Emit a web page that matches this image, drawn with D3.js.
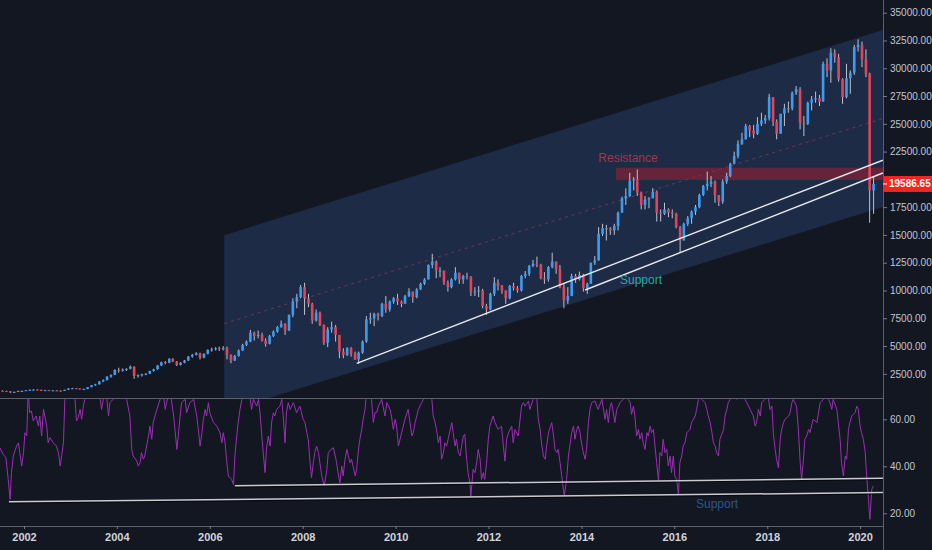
<!DOCTYPE html>
<html>
<head>
<meta charset="utf-8">
<script src="https://cdn.jsdelivr.net/npm/d3@7"></script>
<style>
  html, body { margin: 0; padding: 0; background: #131722; }
  svg { display: block; }
  text { font-family: "Liberation Sans", Arial, sans-serif; }
</style>
</head>
<body>
<svg id="chart" width="932" height="550"></svg>
<script>
// ---- data (monthly candles from Jul 2001) ----
const startMonth = new Date(2001, 6, 1);
const firstOpen = 980;
const closes = [
  950, 930, 820, 870, 960, 960,
  1020, 1060, 1080, 1060, 1000, 1030, 990, 1010, 980, 960, 1060, 1180,
  1200, 1190, 1120, 1130, 1300, 1470, 1550, 1800, 1930, 2250, 2400, 2850,
  2800, 2880, 2950, 3140, 2300, 2380, 2450, 2500, 2750, 2900, 3250, 3550,
  3500, 3850, 3600, 3300, 3500, 3700, 4050, 4200, 4350, 3950, 4300, 4650,
  4700, 4800, 4750, 4800, 4200, 3700, 4100, 4600, 5100, 5400, 6200, 5900,
  6000, 5500, 5200, 5900, 6300, 6700, 7000, 6400, 7800, 9000, 9400, 10300,
  9300, 8800, 7300, 8000, 6900, 5300, 6500, 6700, 6000, 4500, 4200, 4800,
  4300, 3800, 4400, 5400, 7400, 7500, 7900, 7700, 8800, 8300, 9000, 9300,
  9000, 8800, 9500, 9900, 9400, 10100, 10600, 11000, 12300, 12600, 11800, 11800,
  10700, 10300, 11000, 11600, 11000, 11300, 11200, 9900, 9900, 10000, 8600, 8300,
  9700, 10700, 10400, 10000, 9300, 10400, 10200, 10000, 11300, 11500, 12200, 12400,
  12300, 11100, 11000, 12100, 12600, 11900, 10300, 9100, 9500, 11300, 11000, 11400,
  10200, 10600, 12500, 12700, 15100, 15600, 15600, 15400, 15800, 17000, 18300, 18500,
  19900, 20000, 18800, 17700, 18200, 18300, 18900, 17000, 16900, 17300, 17000, 16900,
  15700, 14500, 16000, 16500, 17100, 17500, 18600, 19400, 19600, 19800, 18600, 18000,
  19800, 20300, 21400, 22100, 23200, 23600, 24800, 24400, 24100, 25000, 25300, 25500,
  27400, 25200, 24100, 25900, 26400, 26400, 27800, 28100, 25100, 25000, 26900, 27200,
  27300, 27000, 30400, 29800, 31400, 31000, 29000, 27400, 29100, 29600, 31900, 32100,
  30800, 29500, 19000, 19586.65
];
const highs = [
  1010, 980, 940, 900, 980, 1000,
  1040, 1090, 1110, 1100, 1070, 1050, 1050, 1030, 1030, 1000, 1070, 1200,
  1240, 1230, 1200, 1170, 1310, 1490, 1600, 1840, 2000, 2280, 2450, 2900,
  3050, 2980, 3000, 3250, 3180, 2450, 2520, 2560, 2780, 2960, 3280, 3600,
  3650, 3900, 3900, 3650, 3550, 3750, 4100, 4300, 4450, 4400, 4350, 4700,
  4850, 4900, 4950, 5000, 4950, 4250, 4200, 4700, 5200, 5500, 6450, 6300,
  6400, 6200, 5700, 6000, 6400, 6800, 7300, 7050, 7850, 9300, 9700, 10500,
  10700, 9700, 8900, 8300, 8100, 6950, 6700, 7200, 6900, 6000, 4800, 4900,
  4900, 4500, 4500, 5500, 7700, 8000, 8000, 8000, 8900, 9500, 9100, 9400,
  9700, 9100, 9600, 10200, 9900, 10200, 10700, 11100, 12350, 13300, 12700, 12100,
  11700, 10900, 11100, 12100, 11600, 11400, 11600, 11300, 10300, 10400, 10150, 8800,
  9800, 11200, 11000, 10500, 10000, 10500, 10700, 10400, 11400, 11750, 12300, 12750,
  13050, 12400, 11650, 12200, 13400, 12600, 12300, 10600, 10300, 11500, 11500, 11700,
  11500, 10700, 12500, 13100, 15700, 16000, 15900, 15700, 16000, 17100, 18450, 19200,
  20600, 20200, 20900, 18900, 18500, 18400, 19200, 19000, 17300, 17900, 17400, 17300,
  17000, 15800, 16100, 16700, 17200, 17700, 18700, 19500, 20700, 20300, 19900, 18400,
  20000, 20600, 21500, 22500, 23500, 24200, 25000, 24900, 24900, 25600, 26000, 25800,
  27700, 27400, 25400, 25900, 26800, 27000, 27900, 28400, 28300, 25700, 27000, 27500,
  27900, 27600, 30600, 30900, 31800, 31700, 31300, 29100, 30400, 29800, 32100, 32600,
  32400, 31700, 29600, 20300
];
const lows = [
  930, 900, 780, 800, 860, 920,
  950, 1000, 1030, 1030, 960, 980, 960, 970, 960, 920, 950, 1050,
  1150, 1140, 1090, 1080, 1120, 1290, 1430, 1540, 1760, 1910, 2150, 2380,
  2600, 2700, 2750, 2900, 2050, 2150, 2250, 2380, 2480, 2700, 2880, 3200,
  3350, 3450, 3550, 3200, 3250, 3450, 3650, 3950, 4150, 3800, 3900, 4250,
  4500, 4600, 4550, 4600, 3800, 3450, 3650, 4050, 4550, 5000, 5350, 5500,
  5700, 5400, 4950, 5150, 5800, 6200, 6650, 6000, 6350, 7600, 8400, 9300,
  7800, 8500, 7000, 7200, 6800, 5100, 4900, 6200, 5400, 3900, 3900, 4100,
  4050, 3750, 3400, 4300, 5300, 7000, 6800, 7300, 7600, 8000, 8100, 8800,
  8700, 8500, 8850, 9400, 8900, 9300, 10050, 10500, 11000, 12000, 11100, 11200,
  10500, 9900, 10200, 10900, 10600, 10600, 11000, 9500, 9500, 9400, 8400, 7800,
  8200, 9500, 10000, 9700, 8800, 9200, 10000, 9800, 9900, 11100, 11300, 12100,
  12100, 11000, 10600, 10800, 12000, 11500, 10200, 8400, 8800, 9500, 10700, 10900,
  9900, 9700, 10600, 12300, 12700, 14900, 14500, 15000, 15000, 15400, 17000, 17700,
  18400, 19000, 18500, 17300, 17300, 17400, 18300, 16200, 16200, 16800, 16600, 16500,
  15600, 13400, 14500, 15800, 16000, 16800, 17400, 18500, 19000, 19300, 17900, 17600,
  17800, 19600, 20200, 21400, 21900, 23100, 23600, 23800, 23700, 24000, 24800, 25000,
  25300, 24800, 23600, 24200, 24800, 26000, 26200, 27600, 24500, 23900, 24900, 26200,
  26900, 26600, 27000, 29200, 28700, 30500, 28800, 26800, 27300, 27700, 29400, 31500,
  30100, 29200, 16100, 16900
];

// RSI readings: [decimal year, value]
const rsi = [
  [2001.48,47.9],[2001.55,45.1],[2001.61,43.7],[2001.66,34.4],[2001.70,25.9],[2001.73,37.3],[2001.77,44.4],
  [2001.84,48.6],[2001.88,50.0],[2001.91,45.8],[2001.95,40.1],[2001.99,45.8],[2002.02,54.3],[2002.06,52.9],
  [2002.09,72],[2002.12,62.8],[2002.16,63.5],[2002.20,59.3],[2002.26,61.4],[2002.31,57.1],[2002.34,61.4],
  [2002.38,52.9],[2002.42,64.2],[2002.45,61.4],[2002.49,57.1],[2002.52,50.0],[2002.56,52.2],[2002.63,50.0],
  [2002.70,48.6],[2002.74,45.8],[2002.78,40.1],[2002.81,44.4],[2002.85,50.0],[2002.88,68.5],[2002.92,74],
  [2003.03,72],[2003.10,68.5],[2003.13,59.3],[2003.17,60.7],[2003.21,64.2],[2003.24,60.0],[2003.28,65.6],
  [2003.31,68.5],[2003.42,75],[2003.53,73],[2003.64,68.5],[2003.67,64.2],[2003.71,68.5],[2003.77,72],
  [2003.82,61.4],[2003.85,67.1],[2003.92,68.5],[2004.07,73],[2004.21,68.5],[2004.28,61.4],[2004.32,47.2],
  [2004.35,44.4],[2004.43,42.2],[2004.46,40.1],[2004.50,41.5],[2004.53,45.8],[2004.57,43.0],[2004.60,44.4],
  [2004.68,52.9],[2004.71,57.1],[2004.75,51.5],[2004.78,58.6],[2004.86,64.2],[2004.93,68.5],[2004.99,72],
  [2005.04,64.2],[2005.07,67.1],[2005.14,73],[2005.22,61.4],[2005.25,55.7],[2005.29,47.2],[2005.32,52.9],
  [2005.36,61.4],[2005.39,67.1],[2005.47,68.5],[2005.50,62.8],[2005.57,67.1],[2005.65,68.5],[2005.72,61.4],
  [2005.79,48.6],[2005.83,54.3],[2005.86,60.0],[2005.90,64.2],[2005.93,61.4],[2005.97,67.1],[2006.00,62.8],
  [2006.08,58.6],[2006.15,57.1],[2006.22,54.3],[2006.26,50.0],[2006.29,54.3],[2006.33,50.0],[2006.36,43.0],
  [2006.40,35.9],[2006.47,34.4],[2006.51,32.3],[2006.54,44.4],[2006.58,52.9],[2006.61,58.6],[2006.65,64.2],
  [2006.69,68.5],[2006.79,73],[2006.87,68.5],[2006.90,64.2],[2006.94,68.5],[2007.01,65.6],[2007.05,68.5],
  [2007.08,62.8],[2007.15,45.8],[2007.19,37.3],[2007.22,47.2],[2007.26,52.9],[2007.30,48.6],[2007.33,58.6],
  [2007.37,62.8],[2007.40,61.4],[2007.44,64.2],[2007.51,65.6],[2007.55,68.5],[2007.58,61.4],[2007.62,50.0],
  [2007.65,62.8],[2007.69,67.1],[2007.73,64.2],[2007.80,67.1],[2007.87,62.8],[2007.94,65.6],[2008.01,60.0],
  [2008.05,58.6],[2008.09,54.3],[2008.12,51.5],[2008.16,41.5],[2008.19,35.2],[2008.23,41.5],[2008.26,45.8],
  [2008.30,48.6],[2008.34,45.8],[2008.37,41.5],[2008.41,35.9],[2008.465,31.6],[2008.52,38.7],[2008.55,45.8],
  [2008.61,47.2],[2008.66,47.9],[2008.70,44.4],[2008.73,41.5],[2008.77,35.9],[2008.80,33.0],[2008.84,40.1],
  [2008.87,35.9],[2008.91,43.0],[2008.95,47.2],[2008.98,44.4],[2009.02,41.5],[2009.05,43.0],[2009.13,35.9],
  [2009.16,38.7],[2009.20,47.2],[2009.23,51.5],[2009.27,55.7],[2009.30,60.0],[2009.34,64.2],[2009.36,68.5],
  [2009.43,75],[2009.48,68.5],[2009.52,58.6],[2009.556,62.8],[2009.59,62.8],[2009.63,65.6],[2009.70,68.5],
  [2009.77,61.4],[2009.81,67.1],[2009.88,64.2],[2009.91,61.4],[2009.95,55.7],[2009.99,60.0],[2010.02,57.1],
  [2010.06,48.6],[2010.13,54.3],[2010.20,60.0],[2010.27,64.2],[2010.35,52.9],[2010.38,54.3],[2010.42,58.6],
  [2010.49,64.2],[2010.56,67.1],[2010.60,68.5],[2010.69,75],[2010.78,68.5],[2010.81,61.4],[2010.85,58.6],
  [2010.88,55.7],[2010.92,50.0],[2010.96,52.9],[2010.99,43.0],[2011.03,45.8],[2011.06,50.0],[2011.10,48.6],
  [2011.13,51.5],[2011.21,58.6],[2011.24,54.3],[2011.28,48.6],[2011.31,51.5],[2011.35,45.8],[2011.39,44.4],
  [2011.42,48.6],[2011.46,52.9],[2011.49,53.6],[2011.53,43.0],[2011.56,37.3],[2011.60,33.0],[2011.62,27.3],
  [2011.67,38.7],[2011.71,37.3],[2011.745,41.5],[2011.78,47.2],[2011.82,43.0],[2011.85,34.4],[2011.89,37.3],
  [2011.92,34.4],[2011.96,41.5],[2011.996,51.5],[2012.03,57.1],[2012.10,61.4],[2012.14,58.6],[2012.21,55.7],
  [2012.28,57.1],[2012.32,48.6],[2012.355,42.2],[2012.39,51.5],[2012.43,54.3],[2012.50,57.1],[2012.53,50.0],
  [2012.57,55.7],[2012.64,52.9],[2012.71,65.6],[2012.75,67.1],[2012.785,65.6],[2012.86,67.8],[2012.89,64.2],
  [2012.96,68.5],[2013.00,72],[2013.04,68.5],[2013.07,60.0],[2013.11,55.7],[2013.14,50.0],[2013.18,44.4],
  [2013.22,43.0],[2013.25,48.6],[2013.29,54.3],[2013.36,58.6],[2013.40,52.9],[2013.43,47.2],[2013.47,45.8],
  [2013.50,47.2],[2013.54,41.5],[2013.575,35.9],[2013.63,27.3],[2013.68,34.4],[2013.72,44.4],[2013.75,48.6],
  [2013.79,54.3],[2013.83,57.1],[2013.86,51.5],[2013.90,55.7],[2013.93,57.1],[2013.97,54.3],[2014.00,50.0],
  [2014.04,45.8],[2014.08,43.0],[2014.11,47.2],[2014.15,58.6],[2014.185,64.2],[2014.22,67.1],[2014.29,67.8],
  [2014.36,64.2],[2014.44,68.5],[2014.51,60.0],[2014.54,64.2],[2014.58,58.6],[2014.62,65.6],[2014.65,67.1],
  [2014.72,58.6],[2014.76,64.2],[2014.80,65.6],[2014.83,67.1],[2014.90,68.5],[2014.96,74],[2015.01,68.5],
  [2015.05,67.1],[2015.08,62.1],[2015.12,65.6],[2015.15,61.4],[2015.19,52.9],[2015.23,55.7],[2015.26,51.5],
  [2015.30,54.3],[2015.33,50.0],[2015.37,47.2],[2015.41,54.3],[2015.44,52.9],[2015.48,57.1],[2015.51,54.3],
  [2015.55,55.7],[2015.585,48.6],[2015.62,41.5],[2015.66,33.7],[2015.69,45.8],[2015.73,44.4],[2015.76,51.5],
  [2015.80,45.8],[2015.84,47.2],[2015.87,40.1],[2015.91,44.4],[2015.94,37.3],[2015.98,44.4],[2016.01,35.9],
  [2016.05,34.4],[2016.09,28.1],[2016.12,41.5],[2016.16,44.4],[2016.19,48.6],[2016.23,50.0],[2016.27,54.3],
  [2016.34,55.7],[2016.37,58.6],[2016.45,61.4],[2016.48,64.2],[2016.52,68.5],[2016.55,74],[2016.59,68.5],
  [2016.66,67.1],[2016.70,64.2],[2016.73,61.4],[2016.77,58.6],[2016.81,54.3],[2016.84,50.0],[2016.88,48.6],
  [2016.91,45.8],[2016.95,44.4],[2016.98,51.5],[2017.06,55.7],[2017.09,61.4],[2017.13,64.2],[2017.16,67.1],
  [2017.20,68.5],[2017.27,75],[2017.34,68.5],[2017.43,73],[2017.52,68.5],[2017.56,67.1],[2017.63,64.2],
  [2017.70,61.4],[2017.74,57.1],[2017.77,58.6],[2017.81,64.2],[2017.85,61.4],[2017.88,67.1],[2017.95,68.5],
  [2018.00,72],[2018.06,64.2],[2018.10,65.6],[2018.13,54.3],[2018.17,47.2],[2018.20,43.0],[2018.24,39.4],
  [2018.28,51.5],[2018.31,55.7],[2018.35,58.6],[2018.38,60.0],[2018.46,61.4],[2018.49,62.8],[2018.53,67.1],
  [2018.56,68.5],[2018.63,65.6],[2018.67,55.7],[2018.71,41.5],[2018.74,34.4],[2018.78,43.0],[2018.81,51.5],
  [2018.85,52.9],[2018.89,55.7],[2018.92,54.3],[2018.99,60.0],[2019.07,58.6],[2019.14,67.1],[2019.21,68.5],
  [2019.27,74],[2019.32,68.5],[2019.35,67.1],[2019.39,64.2],[2019.42,68.5],[2019.50,64.2],[2019.53,58.6],
  [2019.57,51.5],[2019.60,41.5],[2019.64,35.9],[2019.68,44.4],[2019.71,43.0],[2019.75,55.7],[2019.78,58.6],
  [2019.82,61.4],[2019.89,62.8],[2019.93,65.6],[2019.96,64.2],[2020.00,57.1],[2020.03,54.3],[2020.07,51.5],
  [2020.11,45.8],[2020.14,35.9],[2020.18,25.9],[2020.21,17.4],[2020.25,30.2],[2020.285,31.6]
];

// drawings: [decimal year, value]
const channelTop = [[2006.31, 14980], [2020.49, 33440]];
const channelBottom = [[2006.31, -930], [2020.49, 17510]];
const resistanceZone = [[2014.745, 21050], [2020.49, 19950]];
const supportLineA = [[2009.163, 3447], [2020.49, 21728]];
const supportLineB = [[2014.078, 10045], [2020.49, 20576]];
const rsiSupportA = [[2001.675, 24.9], [2020.49, 28.8]];
const rsiSupportB = [[2006.54, 31.7], [2020.49, 34.9]];

const priceTicks = [2500, 5000, 7500, 10000, 12500, 15000, 17500, 22500, 25000, 27500, 30000, 32500, 35000];
const rsiTicks = [20, 40, 60];
const yearTicks = [2002, 2004, 2006, 2008, 2010, 2012, 2014, 2016, 2018, 2020];
const lastPrice = 19586.65;

// ---- helpers ----
function yd(t) {
  const y = Math.floor(t);
  const s = new Date(y, 0, 1), e = new Date(y + 1, 0, 1);
  return new Date(+s + (t - y) * (e - s));
}

const svg = d3.select("#chart");
const W = 932, H = 550;
const axisX = 883;
const priceBottom = 398, rsiTop = 399, rsiBottom = 526;

const x = d3.scaleTime()
  .domain([new Date(2002, 0, 1), new Date(2020, 0, 1)])
  .range([24, 860.1]);
const y = d3.scaleLinear().domain([0, 35000]).range([401.6, 12.7]);
const yR = d3.scaleLinear().domain([20, 60]).range([513.3, 419.3]);

svg.append("rect").attr("width", W).attr("height", H).attr("fill", "#131722");

const defs = svg.append("defs");
defs.append("clipPath").attr("id", "clipP")
  .append("rect").attr("x", 0).attr("y", 0).attr("width", axisX).attr("height", priceBottom);
defs.append("clipPath").attr("id", "clipR")
  .append("rect").attr("x", 0).attr("y", rsiTop).attr("width", axisX).attr("height", rsiBottom - rsiTop);

const segLine = (ys) => d3.line().x(d => x(yd(d[0]))).y(d => ys(d[1]));

// ---- price panel ----
const gp = svg.append("g").attr("clip-path", "url(#clipP)");

const chanPts = [channelTop[0], channelTop[1], channelBottom[1], channelBottom[0]];
gp.append("path")
  .attr("d", segLine(y)(chanPts) + "Z")
  .attr("fill", "#1e2b46");

// channel median (dashed)
const mid = channelTop.map((d, i) => [d[0], (d[1] + channelBottom[i][1]) / 2]);
gp.append("path")
  .attr("d", segLine(y)(mid))
  .attr("stroke", "rgba(190,70,90,0.5)")
  .attr("stroke-width", 1)
  .attr("stroke-dasharray", "3,4")
  .attr("fill", "none");

// resistance zone
gp.append("rect")
  .attr("x", x(yd(resistanceZone[0][0])))
  .attr("y", y(resistanceZone[0][1]))
  .attr("width", x(yd(resistanceZone[1][0])) - x(yd(resistanceZone[0][0])))
  .attr("height", y(resistanceZone[1][1]) - y(resistanceZone[0][1]))
  .attr("fill", "rgba(150,32,52,0.6)");

// candles
const candles = closes.map((c, i) => {
  const d = d3.timeDay.offset(d3.timeMonth.offset(startMonth, i), 15);
  const o = i === 0 ? firstOpen : closes[i - 1];
  return { d, o, h: highs[i], l: lows[i], c };
});
const bw = 2.6;
gp.selectAll("line.wick").data(candles).join("line")
  .attr("class", "wick")
  .attr("x1", d => x(d.d)).attr("x2", d => x(d.d))
  .attr("y1", d => y(d.h)).attr("y2", d => y(d.l))
  .attr("stroke", "#cfd3dc").attr("stroke-width", 0.9);
gp.selectAll("rect.body").data(candles).join("rect")
  .attr("class", "body")
  .attr("x", d => x(d.d) - bw / 2)
  .attr("width", bw)
  .attr("y", d => y(Math.max(d.o, d.c)))
  .attr("height", d => Math.max(1, Math.abs(y(d.o) - y(d.c))))
  .attr("fill", d => d.c >= d.o ? "#3d9cf0" : "#e0455a");

// support lines
[supportLineA, supportLineB].forEach(seg => {
  gp.append("path")
    .attr("d", segLine(y)(seg))
    .attr("stroke", "#e6e8ee").attr("stroke-width", 1.4).attr("fill", "none");
});

gp.append("text").attr("x", 628).attr("y", 162).attr("text-anchor", "middle")
  .attr("font-size", 12).attr("fill", "#9a3a4c").text("Resistance");
gp.append("text").attr("x", 641).attr("y", 284).attr("text-anchor", "middle")
  .attr("font-size", 12).attr("fill", "#2aa8a6").text("Support");

// ---- RSI panel ----
const gr = svg.append("g").attr("clip-path", "url(#clipR)");
gr.append("path")
  .attr("d", segLine(yR)(rsi))
  .attr("stroke", "#9b2fb3").attr("stroke-width", 1).attr("fill", "none");

[rsiSupportA, rsiSupportB].forEach(seg => {
  gr.append("path")
    .attr("d", segLine(yR)(seg))
    .attr("transform", "translate(0,1.2)")
    .attr("stroke", "#000").attr("stroke-opacity", 0.6).attr("stroke-width", 1.5).attr("fill", "none");
  gr.append("path")
    .attr("d", segLine(yR)(seg))
    .attr("stroke", "#c9cbd1").attr("stroke-width", 1.5).attr("fill", "none");
});
gr.append("text").attr("x", 717).attr("y", 508).attr("text-anchor", "middle")
  .attr("font-size", 12).attr("fill", "#2d5688").text("Support");

// ---- frames ----
svg.append("line").attr("x1", 0).attr("x2", axisX).attr("y1", priceBottom + 0.5).attr("y2", priceBottom + 0.5)
  .attr("stroke", "#5d606b");
svg.append("line").attr("x1", 0).attr("x2", axisX).attr("y1", rsiBottom + 0.5).attr("y2", rsiBottom + 0.5)
  .attr("stroke", "#5d606b");
svg.append("line").attr("x1", axisX + 0.5).attr("x2", axisX + 0.5).attr("y1", 0).attr("y2", H)
  .attr("stroke", "#5d606b");

// ---- axes ----
function styleAxis(g) {
  g.select(".domain").remove();
  g.selectAll(".tick line").attr("stroke", "#787b86");
  g.selectAll(".tick text").attr("fill", "#c3c6ce").attr("font-size", 10)
    .attr("font-family", "'Liberation Sans', Arial, sans-serif");
}

svg.append("g").attr("transform", `translate(${axisX},0)`)
  .call(d3.axisRight(y).tickValues(priceTicks).tickFormat(d3.format(".2f")).tickSize(4).tickPadding(3))
  .call(styleAxis);

svg.append("g").attr("transform", `translate(${axisX},0)`)
  .call(d3.axisRight(yR).tickValues(rsiTicks).tickFormat(d3.format(".2f")).tickSize(4).tickPadding(3))
  .call(styleAxis);

svg.append("g").attr("transform", `translate(0,${rsiBottom})`)
  .call(d3.axisBottom(x).tickValues(yearTicks.map(v => new Date(v, 0, 1)))
    .tickFormat(d3.timeFormat("%Y")).tickSize(3).tickPadding(4))
  .call(styleAxis)
  .call(g => g.selectAll(".tick text").attr("font-size", 11).attr("font-weight", "bold").attr("fill", "#d1d4dc"));

// last price label
const lp = svg.append("g").attr("transform", `translate(${axisX},${y(lastPrice)})`);
lp.append("rect").attr("x", 1).attr("y", -8).attr("width", W - axisX).attr("height", 16).attr("fill", "#f7231e");
lp.append("line").attr("x1", 0).attr("x2", 4).attr("stroke", "#fff");
lp.append("text").attr("x", 6).attr("dy", "0.35em").attr("font-size", 10).attr("font-weight", "bold")
  .attr("fill", "#ffffff").text(d3.format(".2f")(lastPrice));
</script>
</body>
</html>
